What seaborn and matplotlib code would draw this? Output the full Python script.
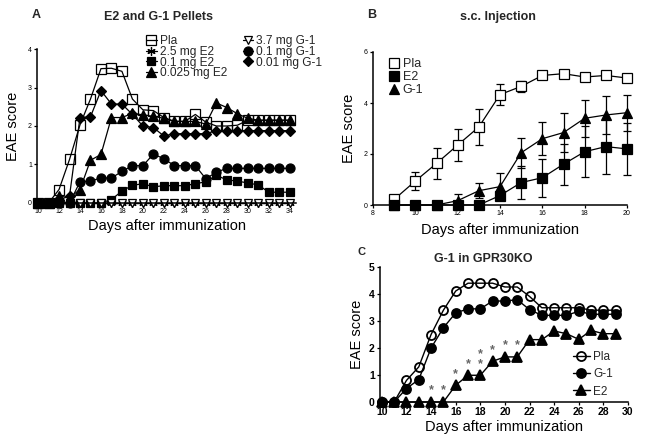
import matplotlib
matplotlib.use("Agg")
import matplotlib.pyplot as plt
from matplotlib.lines import Line2D
import seaborn as sns

# ---------------- Panel A: E2 and G-1 Pellets ----------------
days_a = [10, 11, 12, 13, 14, 15, 16, 17, 18, 19, 20, 21, 22, 23, 24, 25, 26, 27, 28, 29, 30, 31, 32, 33, 34]
a_pla = [0, 0, 0.35, 1.13, 2.03, 2.7, 3.49, 3.5, 3.42, 2.7, 2.42, 2.4, 2.22, 2.12, 2.12, 2.3, 2.1, 2.0, 2.0, 2.02, 2.15, 2.15, 2.15, 2.15, 2.15]
a_e2_25 = [0, 0, 0, 0, 0, 0, 0, 0, 0, 0, 0, 0, 0, 0, 0, 0, 0, 0, 0, 0, 0, 0, 0, 0, 0]
a_e2_01 = [0, 0, 0, 0, 0, 0, 0, 0.09, 0.31, 0.46, 0.5, 0.42, 0.45, 0.45, 0.45, 0.5, 0.55, 0.72, 0.6, 0.57, 0.52, 0.47, 0.28, 0.28, 0.28]
a_e2_0025 = [0, 0, 0.18, 0.14, 0.35, 1.11, 1.26, 2.22, 2.22, 2.33, 2.29, 2.25, 2.2, 2.12, 2.12, 2.12, 2.05, 2.6, 2.48, 2.32, 2.2, 2.15, 2.15, 2.15, 2.15]
a_g1_37 = [0, 0, 0, 0, 0, 0, 0, 0, 0, 0, 0, 0, 0, 0, 0, 0, 0, 0, 0, 0, 0, 0, 0, 0, 0]
a_g1_01 = [0, 0, 0, 0, 0.55, 0.57, 0.65, 0.65, 0.82, 0.97, 0.97, 1.27, 1.15, 0.97, 0.97, 0.97, 0.63, 0.8, 0.9, 0.9, 0.9, 0.9, 0.9, 0.9, 0.9]
a_g1_001 = [0, 0, 0.08, 0.18, 2.22, 2.24, 2.92, 2.57, 2.57, 2.3, 2.0, 1.96, 1.74, 1.8, 1.8, 1.8, 1.8, 1.88, 1.88, 1.88, 1.88, 1.88, 1.88, 1.88, 1.88]
a_labels = ["Pla", "2.5 mg E2", "0.1 mg E2", "0.025 mg E2", "3.7 mg G-1", "0.1 mg G-1", "0.01 mg G-1"]
a_xticks = [10, 12, 14, 16, 18, 20, 22, 24, 26, 28, 30, 32, 34]
a_yticks = [0, 1, 2, 3, 4]

# ---------------- Panel B: s.c. Injection ----------------
days_b = [9, 10, 11, 12, 13, 14, 15, 16, 17, 18, 19, 20]
b_pla = [0.22, 0.94, 1.63, 2.35, 3.06, 4.33, 4.65, 5.08, 5.15, 5.02, 5.08, 4.98]
b_pla_err = [0.05, 0.37, 0.6, 0.63, 0.72, 0.4, 0.2, 0.08, 0.08, 0.1, 0.1, 0.1]
b_e2 = [0, 0, 0, 0, 0, 0.37, 0.88, 1.07, 1.6, 2.09, 2.29, 2.2]
b_e2_err = [0, 0, 0, 0, 0, 0.12, 0.64, 0.74, 0.8, 1.0, 1.07, 1.03]
b_g1 = [0, 0, 0, 0.17, 0.56, 0.72, 2.05, 2.6, 2.84, 3.4, 3.53, 3.62]
b_g1_err = [0, 0, 0, 0.25, 0.3, 0.53, 0.58, 0.65, 0.78, 0.72, 0.76, 0.7]
b_labels = ["Pla", "E2", "G-1"]
b_xticks = [8, 10, 12, 14, 16, 18, 20]
b_yticks = [0, 2, 4, 6]

# ---------------- Panel C: G-1 in GPR30KO ----------------
days_c = [10, 11, 12, 13, 14, 15, 16, 17, 18, 19, 20, 21, 22, 23, 24, 25, 26, 27, 28, 29]
c_pla = [0, 0, 0.8, 1.3, 2.5, 3.4, 4.11, 4.4, 4.4, 4.4, 4.26, 4.26, 3.91, 3.49, 3.49, 3.49, 3.49, 3.4, 3.4, 3.4]
c_g1 = [0, 0, 0.5, 0.83, 2.0, 2.75, 3.3, 3.45, 3.45, 3.74, 3.74, 3.79, 3.42, 3.21, 3.21, 3.21, 3.36, 3.25, 3.25, 3.25]
c_e2 = [0, 0, 0, 0, 0, 0, 0.62, 0.99, 0.99, 1.51, 1.67, 1.67, 2.31, 2.31, 2.63, 2.53, 2.32, 2.65, 2.53, 2.53]
c_star_counts = [0, 0, 0, 0, 1, 1, 1, 1, 2, 1, 1, 1, 0, 0, 0, 0, 0, 0, 0, 0]
c_labels = ["Pla", "G-1", "E2"]
c_xticks = [10, 12, 14, 16, 18, 20, 22, 24, 26, 28, 30]
c_yticks = [0, 1, 2, 3, 4, 5]

sns.set_theme(style="ticks")
plt.rcParams['font.family'] = ['Liberation Sans', 'DejaVu Sans']

W, H = 645, 441
fig = plt.figure(figsize=(W / 100, H / 100), dpi=100)
fig.patch.set_facecolor("white")


def px_axes(left, top, right, bottom):
    return fig.add_axes([left / W, 1 - bottom / H, (right - left) / W, (bottom - top) / H])


def style_axes(ax, tick_size, bold=False):
    sns.despine(ax=ax)
    for s in ("left", "bottom"):
        ax.spines[s].set_linewidth(1.1)
        ax.spines[s].set_color("black")
    ax.tick_params(axis="both", direction="out", length=2.5, width=0.9,
                   labelsize=tick_size, pad=1.2, colors="black")
    if bold:
        for lab in ax.get_xticklabels() + ax.get_yticklabels():
            lab.set_fontweight("bold")
    ax.set_facecolor("white")
    ax.grid(False)


K = "black"
LW = 0.9

# ---------- Panel A ----------
axA = px_axes(37, 49, 296, 203)
specA = [
    (a_pla, dict(marker="s", markerfacecolor="none", markersize=6.5)),
    (a_e2_25, dict(marker=(6, 2, 0), markerfacecolor=K, markersize=6)),
    (a_e2_01, dict(marker="s", markerfacecolor=K, markersize=6)),
    (a_e2_0025, dict(marker="^", markerfacecolor=K, markersize=6.5)),
    (a_g1_37, dict(marker="v", markerfacecolor="white", markersize=6)),
    (a_g1_01, dict(marker="o", markerfacecolor=K, markersize=6.5)),
    (a_g1_001, dict(marker="D", markerfacecolor=K, markersize=5.5)),
]
handlesA = []
for vals, kw in specA:
    sns.lineplot(x=days_a, y=vals, ax=axA, color=K, lw=LW, markeredgecolor=K,
                 markeredgewidth=0.9, clip_on=False, **kw)
    handlesA.append(Line2D([], [], color=K, lw=LW, markeredgecolor=K, markeredgewidth=0.9, **kw))
axA.set_xlim(9.9, 34.6)
axA.set_ylim(0, 4)
axA.set_xticks(a_xticks)
axA.set_yticks(a_yticks)
style_axes(axA, 5)
axA.set_xlabel("Days after immunization", fontsize=10.5, labelpad=3, color=K)
axA.set_ylabel("EAE score", fontsize=10.5, labelpad=6, color=K)
fig.text(158 / W, 1 - 17 / H, "E2 and G-1 Pellets", fontsize=9, fontweight="bold",
         ha="center", va="center")
fig.text(36 / W, 1 - 15 / H, "A", fontsize=9, fontweight="bold", ha="center", va="center")
fig.legend(handlesA, a_labels, ncol=2, loc="upper left",
           bbox_to_anchor=(146 / W, 1 - 35 / H), frameon=False, fontsize=8.6,
           handlelength=0.9, handletextpad=0.25, labelspacing=-0.1,
           columnspacing=1.3, borderpad=0, borderaxespad=0)

# ---------- Panel B ----------
axB = px_axes(373, 52, 627, 205)
specB = [
    (b_pla, b_pla_err, dict(marker="s", markerfacecolor="white", markersize=7.5)),
    (b_e2, b_e2_err, dict(marker="s", markerfacecolor=K, markersize=7.5)),
    (b_g1, b_g1_err, dict(marker="^", markerfacecolor=K, markersize=7.5)),
]
handlesB = []
for vals, err, kw in specB:
    axB.errorbar(days_b, vals, yerr=err, fmt="none", ecolor=K, elinewidth=0.9,
                 capsize=3, capthick=0.9, clip_on=False, zorder=2)
    sns.lineplot(x=days_b, y=vals, ax=axB, color=K, lw=LW, markeredgecolor=K,
                 markeredgewidth=0.9, clip_on=False, zorder=3, **kw)
    handlesB.append(Line2D([], [], color=K, lw=0, markeredgecolor=K, markeredgewidth=0.9, **kw))
axB.set_xlim(8, 20)
axB.set_ylim(0, 6)
axB.set_xticks(b_xticks)
axB.set_yticks(b_yticks)
style_axes(axB, 5)
axB.set_xlabel("Days after immunization", fontsize=10.5, labelpad=4, color=K)
axB.set_ylabel("EAE score", fontsize=10.5, labelpad=6, color=K)
fig.text(498 / W, 1 - 17 / H, "s.c. Injection", fontsize=9, fontweight="bold",
         ha="center", va="center")
fig.text(372 / W, 1 - 15 / H, "B", fontsize=9, fontweight="bold", ha="center", va="center")
fig.legend(handlesB, b_labels, loc="upper left", bbox_to_anchor=(389 / W, 1 - 58 / H),
           frameon=False, fontsize=9, handlelength=0.8, handletextpad=0.3,
           labelspacing=0.08, borderpad=0, borderaxespad=0)

# ---------- Panel C ----------
axC = px_axes(380, 267, 628, 402)
specC = [
    (c_pla, dict(marker="o", markerfacecolor="none", markersize=6.5)),
    (c_g1, dict(marker="o", markerfacecolor=K, markersize=6.5)),
    (c_e2, dict(marker="^", markerfacecolor=K, markersize=6.5)),
]
handlesC = []
for vals, kw in specC:
    sns.lineplot(x=days_c, y=vals, ax=axC, color=K, lw=1.0, markeredgecolor=K,
                 markeredgewidth=1.3, clip_on=False, **kw)
    handlesC.append(Line2D([], [], color=K, lw=1.0, markeredgecolor=K, markeredgewidth=1.3, **kw))
for d, v, n in zip(days_c, c_e2, c_star_counts):
    if n:
        axC.text(d, v + 0.2, "\n".join(["*"] * n), fontsize=9, color="#666666",
                 ha="center", va="bottom", fontweight="bold", linespacing=0.75)
axC.set_xlim(9.85, 30)
axC.set_ylim(0, 5)
axC.set_xticks(c_xticks)
axC.set_yticks(c_yticks)
style_axes(axC, 7.5, bold=True)
axC.set_xlabel("Days after immunization", fontsize=10.5, labelpad=2, color=K)
axC.set_ylabel("EAE score", fontsize=10.5, labelpad=4, color=K)
fig.text(483 / W, 1 - 259 / H, "G-1 in GPR30KO", fontsize=9, fontweight="bold",
         ha="center", va="center")
fig.text(362 / W, 1 - 252 / H, "C", fontsize=8, fontweight="bold", ha="center", va="center")
fig.legend(handlesC, c_labels, loc="upper left", bbox_to_anchor=(573 / W, 1 - 351 / H),
           frameon=False, fontsize=8.5, handlelength=1.4, handletextpad=0.3,
           labelspacing=0.45, borderpad=0, borderaxespad=0)

fig.savefig("out.png", dpi=100, facecolor="white")
